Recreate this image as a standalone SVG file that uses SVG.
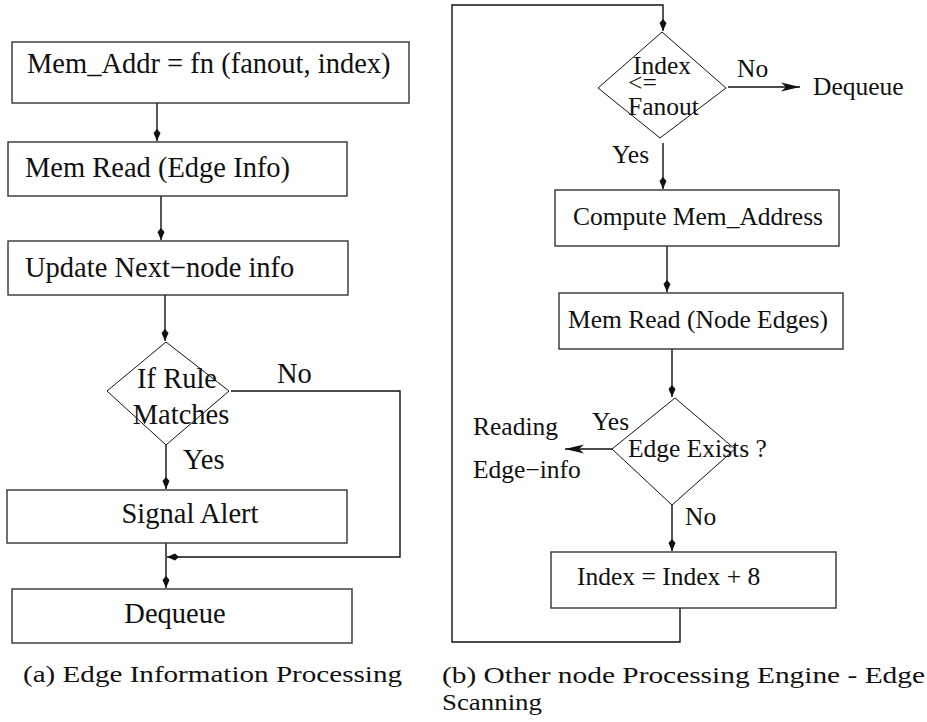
<svg xmlns="http://www.w3.org/2000/svg" width="927" height="722" viewBox="0 0 927 722">
<style>
.box{fill:#fff;stroke:#333;stroke-width:1.4}
.dia{fill:none;stroke:#111;stroke-width:1}
.ln{fill:none;stroke:#111;stroke-width:1.4}
.tl{font-family:"Liberation Serif","Times New Roman",serif;font-size:28.5px;fill:#111}
.tr{font-family:"Liberation Serif","Times New Roman",serif;font-size:25.5px;fill:#111}
.cap{font-family:"Liberation Serif","Times New Roman",serif;font-size:24px;fill:#111}
</style>
<defs>
<marker id="ak" markerUnits="userSpaceOnUse" markerWidth="14" markerHeight="10" refX="0" refY="0" viewBox="-13 -5 14 10" orient="auto">
<path d="M0,0 L-8,-3.5 L-12,0 L-8,3.5 Z" fill="#111"/>
</marker>
<marker id="as" markerUnits="userSpaceOnUse" markerWidth="22" markerHeight="12" refX="0" refY="0" viewBox="-21 -6 22 12" orient="auto">
<path d="M0,0 L-19,-4.5 L-14,0 L-19,4.5 Z" fill="#111"/>
</marker>
</defs>

<g id="connectors">
<line class="ln" x1="157" y1="103" x2="157" y2="141" marker-end="url(#ak)"/>
<line class="ln" x1="161" y1="196" x2="161" y2="240" marker-end="url(#ak)"/>
<line class="ln" x1="165" y1="295" x2="165" y2="341" marker-end="url(#ak)"/>
<polyline class="ln" points="231,391 400,391 400,557 167,557" marker-end="url(#ak)"/>
<line class="ln" x1="166" y1="445" x2="166" y2="489" marker-end="url(#ak)"/>
<line class="ln" x1="166" y1="543" x2="166" y2="588" marker-end="url(#ak)"/>

<polyline class="ln" points="680,608 680,642 452,642 452,5 663,5 663,31" marker-end="url(#ak)"/>
<line class="ln" x1="728" y1="87" x2="800" y2="87" marker-end="url(#as)"/>
<line class="ln" x1="663" y1="143" x2="663" y2="189" marker-end="url(#ak)"/>
<line class="ln" x1="667" y1="246" x2="667" y2="292" marker-end="url(#ak)"/>
<line class="ln" x1="672" y1="349" x2="672" y2="397" marker-end="url(#ak)"/>
<line class="ln" x1="612" y1="449" x2="565" y2="449" marker-end="url(#as)"/>
<line class="ln" x1="672" y1="505" x2="672" y2="551" marker-end="url(#ak)"/>
</g>

<g id="memaddr"><rect class="box" x="12" y="42" width="397" height="61"/><text class="tl" x="27" y="73">Mem_Addr = fn (fanout, index)</text></g>
<g id="memread"><rect class="box" x="8" y="142" width="339" height="54"/><text class="tl" x="25" y="177">Mem Read (Edge Info)</text></g>
<g id="update"><rect class="box" x="8" y="241" width="340" height="54"/><text class="tl" x="25" y="277">Update Next−node info</text></g>
<g id="rule"><polygon class="dia" points="166,342 229,391 166,445 107,391"/><text class="tl" x="177" y="388" text-anchor="middle">If Rule</text><text class="tl" x="181" y="424" text-anchor="middle">Matches</text></g>
<g id="labels-a"><text class="tl" x="277" y="383">No</text><text class="tl" x="183" y="469">Yes</text></g>
<g id="signal"><rect class="box" x="7" y="490" width="340" height="53"/><text class="tl" x="190" y="523" text-anchor="middle">Signal Alert</text></g>
<g id="dequeue-a"><rect class="box" x="12" y="589" width="340" height="54"/><text class="tl" x="175" y="623" text-anchor="middle">Dequeue</text></g>

<g id="indexcheck"><polygon class="dia" points="662,32 726,88 660,138 598,88"/><text class="tr" x="633" y="74">Index</text><text class="tr" x="628" y="91">&lt;=</text><text class="tr" x="628" y="115">Fanout</text></g>
<g id="labels-b"><text class="tr" x="737" y="77">No</text><text class="tr" x="813" y="95">Dequeue</text><text class="tr" x="612" y="163">Yes</text>
<text class="tr" x="592" y="430">Yes</text><text class="tr" x="473" y="435">Reading</text><text class="tr" x="473" y="478">Edge−info</text><text class="tr" x="685" y="525">No</text></g>
<g id="compute"><rect class="box" x="555" y="190" width="284" height="56"/><text class="tr" x="573" y="225">Compute Mem_Address</text></g>
<g id="memreadnode"><rect class="box" x="559" y="293" width="284" height="56"/><text class="tr" x="568" y="328">Mem Read (Node Edges)</text></g>
<g id="edgeexists"><polygon class="dia" points="675,398 735,449 672,505 612,449"/><text class="tr" x="628" y="457">Edge Exists ?</text></g>
<g id="increment"><rect class="box" x="551" y="552" width="285" height="56"/><text class="tr" x="577" y="585">Index = Index + 8</text></g>

<g id="captions">
<text class="cap" x="23" y="682" textLength="379" lengthAdjust="spacingAndGlyphs">(a) Edge Information Processing</text>
<text class="cap" x="442" y="683" textLength="483" lengthAdjust="spacingAndGlyphs">(b) Other node Processing Engine - Edge</text>
<text class="cap" x="442" y="710" textLength="100" lengthAdjust="spacingAndGlyphs">Scanning</text>
</g>
</svg>
